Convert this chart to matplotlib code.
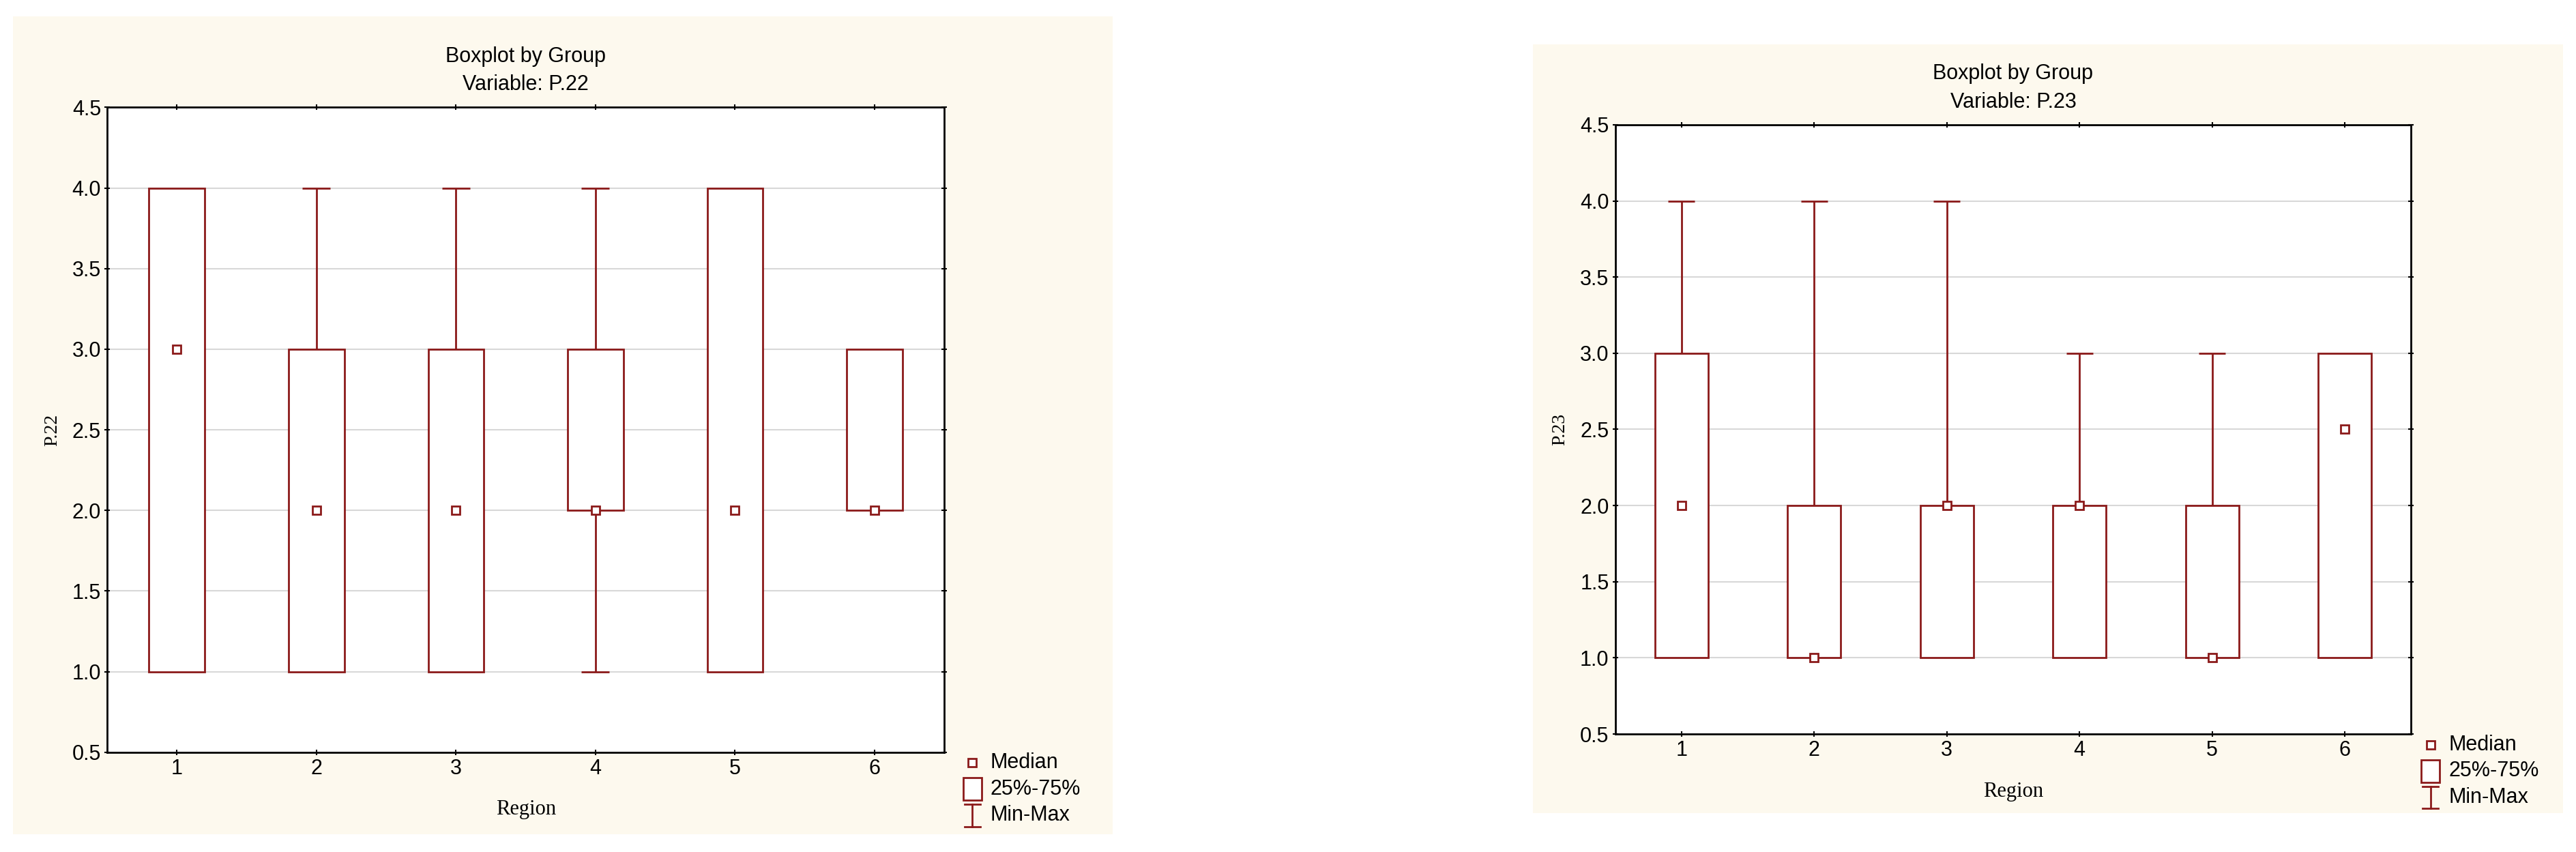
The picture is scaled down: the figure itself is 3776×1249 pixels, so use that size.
import matplotlib
matplotlib.use("Agg")
import matplotlib.pyplot as plt
from matplotlib.patches import Rectangle

regions = [1, 2, 3, 4, 5, 6]
p22_min = [1, 1, 1, 1, 1, 2]
p22_q1 = [1, 1, 1, 2, 1, 2]
p22_med = [3, 2, 2, 2, 2, 2]
p22_q3 = [4, 3, 3, 3, 4, 3]
p22_max = [4, 4, 4, 4, 4, 3]
p23_min = [1, 1, 1, 1, 1, 1]
p23_q1 = [1, 1, 1, 1, 1, 1]
p23_med = [2, 1, 2, 2, 1, 2.5]
p23_q3 = [3, 2, 2, 2, 2, 3]
p23_max = [4, 4, 4, 3, 3, 3]
yticks = [0.5, 1.0, 1.5, 2.0, 2.5, 3.0, 3.5, 4.0, 4.5]

RED = "#8b1a1a"
BG = "#fdf9ee"
SANS = ["Liberation Sans", "DejaVu Sans"]
SERIF = ["Liberation Serif", "DejaVu Serif"]

fig = plt.figure(figsize=(37.76, 12.49), dpi=100)
fig.patch.set_facecolor("white")

def panel(bgrect, axrect, var, mn, q1, med, q3, mx, legxy):
    fig.patches.append(Rectangle(bgrect[:2], bgrect[2], bgrect[3], transform=fig.transFigure,
                                 facecolor=BG, edgecolor="none", zorder=-10))
    ax = fig.add_axes(axrect)
    ax.set_facecolor("white")
    for x, a, b, m, c, d in zip(regions, mn, q1, med, q3, mx):
        if d > c:
            ax.vlines(x, c, d, color=RED, lw=2)
            ax.hlines(d, x - 0.1, x + 0.1, color=RED, lw=2)
        if a < b:
            ax.vlines(x, a, b, color=RED, lw=2)
            ax.hlines(a, x - 0.1, x + 0.1, color=RED, lw=2)
        ax.bar(x, c - b, bottom=b, width=0.4, facecolor="white", edgecolor=RED, lw=2, zorder=3)
        ax.plot(x, m, "s", ms=9, mfc="white", mec=RED, mew=2, zorder=4)
    ax.set_xlim(0.5, 6.5)
    ax.set_ylim(0.5, 4.5)
    ax.set_xticks(regions)
    ax.set_yticks(yticks)
    ax.set_yticklabels([f"{v:.1f}" for v in yticks])
    ax.grid(axis="y", color="#d8d8d8", lw=1.5, zorder=0)
    ax.set_axisbelow(True)
    ax.tick_params(labelsize=22, length=6, width=1.5, top=True, right=True, direction="inout")
    for t in ax.get_xticklabels() + ax.get_yticklabels():
        t.set_fontfamily(SANS)
    for s in ax.spines.values():
        s.set_linewidth(2)
    ax.set_xlabel("Region", fontsize=22, family=SERIF, labelpad=22)
    ax.set_ylabel(var, fontsize=20, family=SERIF, labelpad=12)
    ax.set_title(f"Boxplot by Group\nVariable: {var}", fontsize=22, family=SANS, pad=18, linespacing=1.5)
    lx, ly = legxy
    dy = 0.031
    fig.lines.append(plt.Line2D([lx], [ly], marker="s", ms=9, mfc="white", mec=RED, mew=2,
                                transform=fig.transFigure))
    fig.patches.append(Rectangle((lx - 0.0035, ly - dy - 0.013), 0.007, 0.026, transform=fig.transFigure,
                                 facecolor="white", edgecolor=RED, lw=2))
    fig.lines.append(plt.Line2D([lx, lx], [ly - 2 * dy - 0.013, ly - 2 * dy + 0.013], color=RED, lw=2,
                                transform=fig.transFigure))
    fig.lines.append(plt.Line2D([lx - 0.003, lx + 0.003], [ly - 2 * dy - 0.013] * 2, color=RED, lw=2,
                                transform=fig.transFigure))
    fig.lines.append(plt.Line2D([lx - 0.003, lx + 0.003], [ly - 2 * dy + 0.013] * 2, color=RED, lw=2,
                                transform=fig.transFigure))
    for i, lab in enumerate(["Median", "25%-75%", "Min-Max"]):
        fig.text(lx + 0.007, ly - i * dy, lab, fontsize=22, family=SANS, va="center")

panel((0.005, 0.021, 0.427, 0.96), (0.0416, 0.117, 0.325, 0.757), "P.22",
      p22_min, p22_q1, p22_med, p22_q3, p22_max, (0.3775, 0.105))
panel((0.595, 0.046, 0.4, 0.902), (0.627, 0.1385, 0.309, 0.715), "P.23",
      p23_min, p23_q1, p23_med, p23_q3, p23_max, (0.9435, 0.126))

fig.savefig("out.png", dpi=100)
